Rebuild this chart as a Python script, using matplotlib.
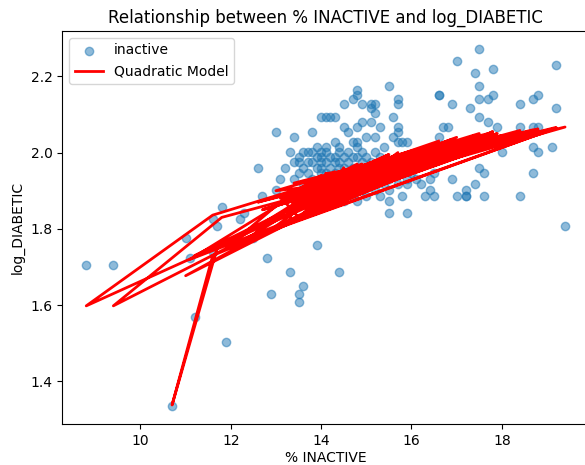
import matplotlib
matplotlib.use("Agg")
import matplotlib.pyplot as plt

# % INACTIVE values (in data/row order)
inactive = [
    16.6, 13.9, 13.8, 14.4, 16.5,
    17.5, 11.6, 8.8, 12.2, 13.3, 14.0, 14.0, 16.4,
    18.7, 14.9, 14.1, 15.2, 16.4,
    17.2, 11.1, 13.5, 14.2, 13.9, 16.1,
    19.2, 11.8, 9.4, 12.5, 14.0, 14.3, 14.2, 16.2,
    16.9, 14.3, 14.5, 14.5, 15.9,
    18.0, 11.6, 10.7, 11.7, 14.7, 14.7, 14.8, 15.7,
    17.4, 11.2, 15.0, 14.8, 15.3, 15.5,
    16.7, 12.9, 11.0, 13.3, 13.4, 14.8, 13.8, 16.5,
    19.1, 11.9, 14.0, 14.5, 14.1, 16.3,
    17.8, 12.8, 14.3, 14.6, 14.4, 15.8,
    17.0, 13.5, 14.6, 14.3, 14.9, 15.3,
    18.4, 12.6, 15.1, 14.1, 15.4, 15.0,
    17.5, 13.5, 13.2, 15.5, 13.6, 14.8,
    18.8, 13.1, 13.9, 14.9, 14.0, 15.5,
    17.3, 13.6, 14.2, 15.1, 14.4, 15.5,
    16.6, 13.0, 14.5, 15.2, 14.7, 15.9,
    18.4, 13.9, 14.8, 15.1, 15.0, 15.6,
    17.7, 13.4, 15.2, 15.2, 15.6, 15.9,
    16.8, 14.4, 13.5, 14.9, 13.7, 16.0,
    19.2, 12.3, 14.0, 15.1, 14.1, 15.2,
    17.6, 12.7, 14.3, 14.8, 14.5, 14.6,
    17.0, 13.0, 14.6, 15.3, 14.9, 14.5,
    18.8, 15.1, 15.7, 15.3,
    17.2, 19.4, 13.4, 15.7, 13.8,
    17.9, 14.0, 15.0, 14.2,
    16.6, 14.4, 15.2, 14.6,
    18.7, 14.7, 15.6, 15.0,
    17.5, 15.2, 15.7, 15.5,
    17.6, 13.6, 15.8, 13.9,
    18.4, 14.1, 15.9, 14.3,
    16.9, 14.5, 14.8, 14.8,
    17.8, 15.1, 14.8, 15.4,
    17.2, 13.7, 15.4, 14.0,
    18.7, 14.4, 15.7, 14.6,
    17.5, 14.9, 15.7, 13.9,
    17.7, 14.3, 15.6, 14.7,
    18.8, 14.2, 13.6, 14.5,
    17.4, 13.7, 13.8,
    18.7, 14.1, 14.4, 14.6,
    17.5, 14.7, 13.5, 13.7,
]

# observed log_DIABETIC values
log_diabetic = [
    2.152, 2.015, 2.054, 2.015, 1.946,
    2.272, 1.825, 1.705, 1.825, 2.001, 2.092, 2.001, 1.932,
    2.140, 2.001, 2.092, 2.001, 1.902,
    1.887, 1.723, 1.988, 2.092, 1.988, 1.932,
    2.230, 1.856, 1.705, 1.775, 1.988, 2.092, 1.988, 1.917,
    2.128, 1.988, 2.128, 1.988, 1.917,
    2.001, 1.740, 1.335, 1.808, 1.988, 2.140, 1.988, 1.917,
    2.208, 1.569, 1.988, 2.152, 1.988, 1.902,
    2.067, 1.629, 1.775, 1.686, 1.974, 2.163, 1.974, 1.887,
    2.015, 1.504, 1.974, 2.067, 1.974, 1.887,
    2.219, 1.723, 1.974, 2.054, 1.974, 1.887,
    1.887, 1.629, 1.974, 2.028, 1.974, 1.887,
    2.128, 1.960, 1.974, 2.015, 1.974, 1.887,
    2.092, 1.609, 1.960, 2.175, 1.960, 1.872,
    2.001, 1.932, 1.960, 2.128, 1.960, 1.872,
    2.116, 1.649, 1.960, 2.128, 1.960, 1.841,
    2.152, 2.054, 1.960, 2.128, 1.960, 1.841,
    1.887, 1.758, 1.960, 2.116, 1.960, 1.946,
    2.140, 2.041, 1.960, 2.104, 1.960, 1.932,
    2.067, 1.686, 1.946, 2.079, 1.946, 1.946,
    2.116, 1.841, 1.946, 2.079, 1.946, 1.902,
    1.946, 1.887, 1.946, 2.067, 1.946, 1.917,
    2.241, 1.902, 1.946, 2.067, 1.946, 1.902,
    2.067, 1.946, 2.067, 1.946,
    1.902, 1.808, 1.932, 2.054, 1.932,
    2.067, 1.932, 2.041, 1.932,
    2.041, 1.932, 2.041, 1.932,
    1.946, 1.932, 2.041, 1.932,
    2.175, 1.932, 2.028, 1.932,
    1.887, 1.917, 2.028, 1.917,
    2.067, 1.917, 2.028, 1.917,
    1.932, 1.917, 2.028, 1.917,
    2.152, 1.917, 2.015, 1.917,
    1.887, 1.902, 2.015, 1.902,
    2.015, 1.902, 2.140, 1.902,
    1.960, 1.902, 2.128, 1.887,
    2.079, 1.887, 2.092, 1.887,
    2.152, 1.872, 2.001, 1.872,
    1.917, 2.001, 2.001,
    2.067, 2.001, 2.001, 2.001,
    2.140, 2.028, 1.974, 1.974,
]

# quadratic model predictions (same row order)
predicted = [
    2.030, 1.920, 1.930, 1.935, 1.995,
    2.050, 1.836, 1.598, 1.780, 1.890, 1.940, 1.925, 1.985,
    2.060, 1.950, 1.945, 1.960, 1.980,
    2.000, 1.720, 1.895, 1.940, 1.910, 1.975,
    2.066, 1.830, 1.598, 1.785, 1.915, 1.950, 1.920, 1.975,
    2.035, 1.925, 1.960, 1.930, 1.965,
    2.045, 1.730, 1.338, 1.750, 1.940, 1.960, 1.940, 1.960,
    2.045, 1.730, 1.950, 1.965, 1.955, 1.945,
    2.020, 1.800, 1.677, 1.815, 1.885, 1.970, 1.900, 1.980,
    2.060, 1.755, 1.910, 1.940, 1.915, 1.975,
    2.055, 1.790, 1.920, 1.935, 1.925, 1.955,
    1.995, 1.825, 1.930, 1.930, 1.940, 1.935,
    2.058, 1.870, 1.945, 1.920, 1.955, 1.925,
    2.040, 1.830, 1.870, 1.995, 1.890, 1.910,
    2.055, 1.880, 1.900, 1.970, 1.905, 1.940,
    2.040, 1.840, 1.910, 1.975, 1.920, 1.935,
    2.025, 1.900, 1.920, 1.980, 1.930, 1.955,
    2.045, 1.855, 1.935, 1.970, 1.940, 1.965,
    2.050, 1.920, 1.945, 1.970, 1.960, 1.970,
    2.025, 1.875, 1.880, 1.960, 1.885, 1.975,
    2.064, 1.770, 1.895, 1.965, 1.900, 1.940,
    2.025, 1.850, 1.905, 1.950, 1.915, 1.915,
    2.040, 1.860, 1.920, 1.970, 1.930, 1.905,
    2.060, 1.935, 1.990, 1.940,
    2.005, 2.067, 1.865, 1.980, 1.875,
    2.050, 1.885, 1.955, 1.890,
    2.010, 1.900, 1.960, 1.905,
    2.050, 1.910, 1.975, 1.920,
    2.045, 1.930, 1.970, 1.940,
    2.020, 1.860, 1.980, 1.870,
    2.055, 1.875, 1.985, 1.885,
    2.000, 1.895, 1.945, 1.905,
    2.050, 1.920, 1.940, 1.930,
    2.000, 1.860, 1.960, 1.870,
    2.055, 1.885, 2.000, 1.890,
    2.025, 1.900, 1.995, 1.860,
    2.045, 1.875, 1.985, 1.890,
    2.062, 1.870, 1.910, 1.880,
    2.015, 1.900, 1.920,
    2.058, 1.925, 1.930, 1.940,
    2.045, 1.945, 1.890, 1.895,
]

fig = plt.figure(figsize=(5.85, 4.65), dpi=100)
ax = fig.add_axes([62.3 / 585, 41 / 465, 526.7 / 585, 393 / 465])

ax.scatter(inactive, log_diabetic, alpha=0.5, label='inactive')
ax.plot(inactive, predicted, color='red', linewidth=2, label='Quadratic Model')

ax.set_title('Relationship between % INACTIVE and log_DIABETIC')
ax.set_xlabel('% INACTIVE', labelpad=2)
ax.set_ylabel('log_DIABETIC')
ax.legend(loc='upper left')

fig.savefig('out.png', dpi=100)
